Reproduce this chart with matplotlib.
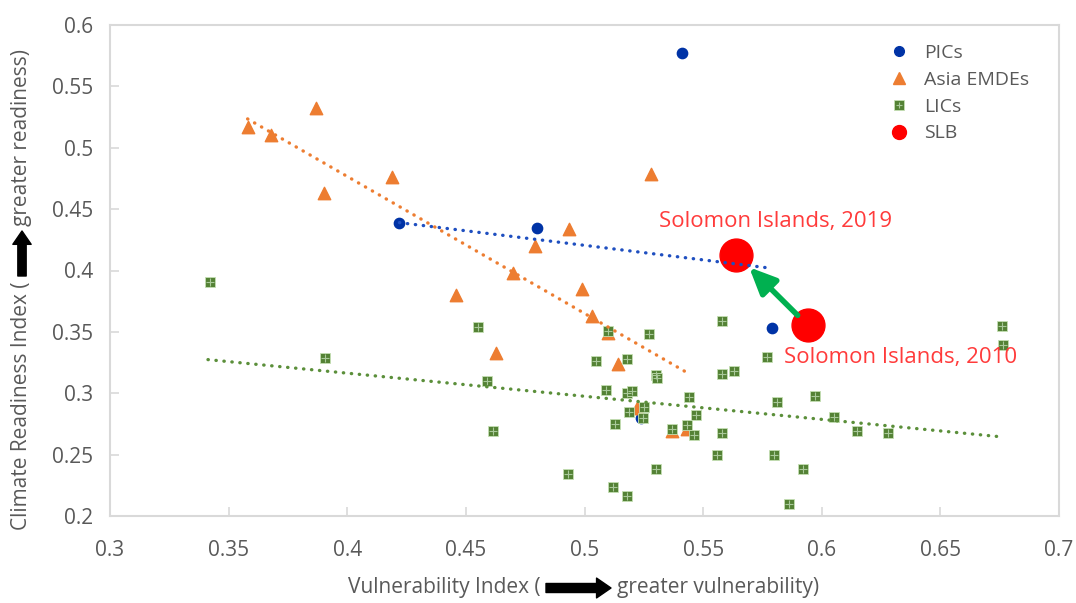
import matplotlib
matplotlib.use("Agg")
import matplotlib.pyplot as plt
from matplotlib.lines import Line2D

plt.rcParams['font.family'] = ['Open Sans', 'DejaVu Sans']

# ---- data ----
pic_x = [0.422, 0.480, 0.541, 0.579, 0.524]
pic_y = [0.439, 0.435, 0.577, 0.353, 0.280]

asia_x = [0.358, 0.368, 0.387, 0.390, 0.419, 0.446, 0.470, 0.479, 0.4935,
          0.528, 0.499, 0.503, 0.4625, 0.510, 0.514, 0.522, 0.537, 0.543]
asia_y = [0.517, 0.510, 0.532, 0.463, 0.476, 0.380, 0.398, 0.420, 0.4335,
          0.479, 0.385, 0.363, 0.333, 0.349, 0.324, 0.288, 0.269, 0.271]

lic_x = [0.342, 0.3905, 0.455, 0.459, 0.4615, 0.493, 0.505, 0.510, 0.509,
         0.513, 0.512, 0.518, 0.518, 0.518, 0.520, 0.5186, 0.525, 0.5245,
         0.527, 0.530, 0.5305, 0.530, 0.537, 0.543, 0.546, 0.544, 0.547,
         0.556, 0.558, 0.558, 0.558, 0.563, 0.577, 0.581, 0.580, 0.586,
         0.592, 0.597, 0.605, 0.615, 0.628, 0.676, 0.6766]
lic_y = [0.391, 0.329, 0.354, 0.310, 0.269, 0.234, 0.326, 0.351, 0.303,
         0.275, 0.224, 0.216, 0.328, 0.300, 0.302, 0.285, 0.289, 0.280,
         0.348, 0.315, 0.3125, 0.238, 0.271, 0.274, 0.266, 0.297, 0.282,
         0.250, 0.359, 0.316, 0.268, 0.318, 0.3295, 0.293, 0.250, 0.2096,
         0.238, 0.298, 0.281, 0.269, 0.268, 0.355, 0.339]

slb_x = [0.594, 0.564]
slb_y = [0.3555, 0.413]
slb_labels = ["Solomon Islands, 2010", "Solomon Islands, 2019"]

# linear trendline ends (as drawn in the chart)
pic_trend_x, pic_trend_y = [0.422, 0.578], [0.439, 0.402]
asia_trend_x, asia_trend_y = [0.358, 0.5426], [0.5235, 0.3175]
lic_trend_x, lic_trend_y = [0.3413, 0.6756], [0.3274, 0.2645]

x_ticks = [0.3, 0.35, 0.4, 0.45, 0.5, 0.55, 0.6, 0.65, 0.7]
y_ticks = [0.2, 0.25, 0.3, 0.35, 0.4, 0.45, 0.5, 0.55, 0.6]

BLUE = '#0033A6'
ORANGE = '#ED7D31'
GREEN = '#548235'
RED = '#FF0000'
GRAY = '#D9D9D9'
TXT = '#595959'

fig = plt.figure(figsize=(10.76, 6.03), dpi=100)
ax = fig.add_axes([110/1076, 1 - 516/603, 949/1076, 491/603])

ax.scatter(pic_x, pic_y, s=55, marker='o', color=BLUE, zorder=3)
ax.scatter(asia_x, asia_y, s=80, marker='^', color=ORANGE, zorder=3)
ax.scatter(lic_x, lic_y, s=60, marker='s', color=GREEN,
           edgecolors='#C5E0B4', linewidths=0.6, zorder=4)
ax.scatter(lic_x, lic_y, s=34, marker='+', color='#A9C99A',
           linewidths=0.8, zorder=4)
ax.scatter(slb_x, slb_y, s=560, marker='o', color=RED, zorder=5)

dots = (0, (0.1, 2.3))
for tx, ty, c in [(pic_trend_x, pic_trend_y, '#1F4FC0'),
                  (asia_trend_x, asia_trend_y, ORANGE),
                  (lic_trend_x, lic_trend_y, '#5B8F3A')]:
    ax.plot(tx, ty, linestyle=dots, color=c, lw=2.4,
            dash_capstyle='round', zorder=6)

# arrow 2010 -> 2019
ax.annotate("", xy=(slb_x[1], slb_y[1]), xytext=(slb_x[0], slb_y[0]),
            arrowprops=dict(arrowstyle='-|>,head_length=1.0,head_width=0.45',
                            color='#00B050', lw=4, mutation_scale=16,
                            shrinkA=10, shrinkB=13), zorder=5)

ax.annotate(slb_labels[0], xy=(slb_x[0], slb_y[0]), xytext=(67, -23),
            textcoords='offset points', ha='center', va='center',
            fontsize=16, color='#FF3B3B', zorder=7)
ax.annotate(slb_labels[1], xy=(slb_x[1], slb_y[1]), xytext=(28, 24),
            textcoords='offset points', ha='center', va='center',
            fontsize=16, color='#FF3B3B', zorder=7)

ax.set_xlim(0.3, 0.7)
ax.set_ylim(0.2, 0.6)
ax.set_xticks(x_ticks)
ax.set_xticklabels([f"{v:g}" for v in x_ticks])
ax.set_yticks(y_ticks)
ax.set_yticklabels([f"{v:g}" for v in y_ticks])
ax.tick_params(axis='both', direction='in', length=6.5, width=1.2,
               color=GRAY, labelcolor=TXT, labelsize=15)
ax.tick_params(axis='x', pad=17)
ax.tick_params(axis='y', pad=12)
for sp in ax.spines.values():
    sp.set_color(GRAY)
    sp.set_linewidth(1.5)

# axis titles with block arrows
fig.text(541/1076, 1 - 588/603, "Vulnerability Index (", ha='right', va='center',
         fontsize=15, color=TXT)
fig.text(617/1076, 1 - 588/603, "greater vulnerability)", ha='left', va='center',
         fontsize=15, color=TXT)
block = 'simple,head_length=0.8,head_width=1.1,tail_width=0.5'
ax.annotate("", xy=(611, 603 - 588), xytext=(546, 603 - 588),
            xycoords='figure pixels', textcoords='figure pixels',
            arrowprops=dict(arrowstyle=block, color='black', mutation_scale=13,
                            shrinkA=0, shrinkB=0),
            annotation_clip=False)

fig.text(22/1076, 1 - 281/603, "Climate Readiness Index (", rotation=90,
         rotation_mode='anchor', ha='right', va='center', fontsize=15, color=TXT)
fig.text(22/1076, 1 - 226/603, "greater readiness)", rotation=90,
         rotation_mode='anchor', ha='left', va='center', fontsize=15, color=TXT)
ax.annotate("", xy=(22, 603 - 231), xytext=(22, 603 - 276),
            xycoords='figure pixels', textcoords='figure pixels',
            arrowprops=dict(arrowstyle=block, color='black', mutation_scale=12,
                            shrinkA=0, shrinkB=0),
            annotation_clip=False)

handles = [
    Line2D([], [], marker='o', color=BLUE, linestyle='none', markersize=7),
    Line2D([], [], marker='^', color=ORANGE, linestyle='none', markersize=8),
    (Line2D([], [], marker='s', color=GREEN, markeredgecolor='#C5E0B4',
            markeredgewidth=0.6, linestyle='none', markersize=7),
     Line2D([], [], marker='+', color='#A9C99A', linestyle='none',
            markersize=5, markeredgewidth=0.8)),
    Line2D([], [], marker='o', color=RED, linestyle='none', markersize=10),
]
leg = ax.legend(handles, ["PICs", "Asia EMDEs", "LICs", "SLB"],
                loc='upper left', bbox_to_anchor=(0.821, 0.961), frameon=False,
                fontsize=14, borderpad=0, borderaxespad=0, handlelength=1.0,
                handletextpad=0.78, labelspacing=0.45)
for t in leg.get_texts():
    t.set_color(TXT)

fig.savefig("out.png", dpi=100, facecolor='white')
